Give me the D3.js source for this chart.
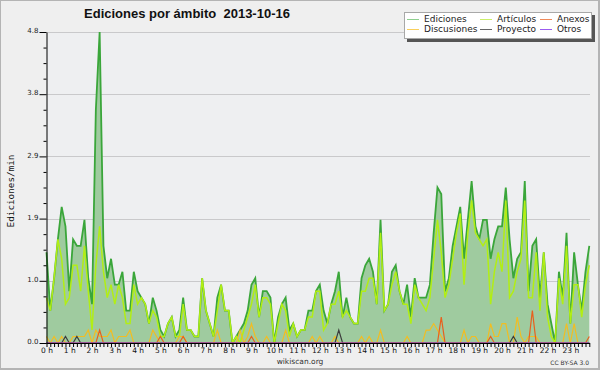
<!DOCTYPE html>
<html>
<head>
<meta charset="utf-8">
<script src="https://cdn.jsdelivr.net/npm/d3@7"></script>
<style>
  body { margin: 0; background: #efefef; }
</style>
</head>
<body>
<div id="chart"></div>
<script>
// DATA - one value every 10 minutes (edits/min), 144 slots per day
var ediciones = [
  1.4,0.5,1.0,1.6,2.1,1.8,0.8,1.6,1.5,1.5,1.9,1.0,
  0.6,3.6,4.8,1.5,1.0,1.3,0.9,0.9,1.1,0.5,0.5,1.1,
  0.8,0.7,0.6,0.3,0.7,0.5,0.2,0.1,0.3,0.4,0.1,0.2,
  0.7,0.2,0.2,0.1,0.1,1.0,0.5,0.3,0.1,0.7,0.9,0.5,
  0.5,0.0,0.1,0.2,0.3,0.5,0.9,1.0,0.4,0.8,0.8,0.7,
  0.0,0.4,0.6,0.7,0.2,0.3,0.1,0.2,0.2,0.5,0.5,0.8,
  0.9,0.5,0.3,0.6,0.8,1.1,0.4,0.7,0.4,0.3,0.3,1.0,
  1.2,1.3,1.1,0.6,1.9,0.5,0.6,1.1,1.2,0.8,0.6,0.9,
  0.4,1.0,0.7,0.7,0.7,0.9,1.7,2.4,2.3,0.8,1.0,1.5,
  1.8,2.1,1.3,1.9,2.5,1.8,1.6,1.9,1.9,1.3,1.6,1.8,
  1.8,2.4,1.6,1.0,1.3,1.4,2.5,0.8,1.5,1.6,0.7,1.4,
  0.6,0.3,0.0,1.1,0.7,1.7,0.3,1.4,0.9,0.5,1.1,1.5
];
var articulos = [
  0.7,0.5,1.0,1.6,1.3,0.6,0.7,1.2,1.2,0.8,1.5,0.8,
  0.2,1.2,1.8,1.1,0.7,0.9,0.6,0.9,0.7,0.3,0.3,0.9,
  0.6,0.7,0.6,0.3,0.5,0.4,0.1,0.1,0.3,0.4,0.1,0.1,
  0.6,0.2,0.2,0.1,0.1,1.0,0.5,0.3,0.1,0.5,0.9,0.5,
  0.5,0.0,0.1,0.0,0.2,0.4,0.6,0.9,0.4,0.7,0.7,0.6,
  0.0,0.3,0.6,0.5,0.1,0.3,0.1,0.2,0.2,0.4,0.4,0.8,
  0.8,0.2,0.3,0.6,0.6,0.8,0.4,0.5,0.4,0.3,0.3,0.8,
  0.8,1.0,1.0,0.6,1.7,0.5,0.6,0.9,1.1,0.8,0.6,0.6,
  0.3,0.9,0.7,0.6,0.5,0.7,1.3,1.9,1.4,0.7,0.9,1.3,
  1.7,2.0,0.9,1.7,2.2,1.7,1.6,1.5,1.6,0.6,1.1,1.4,
  1.1,2.2,0.7,0.8,1.1,1.3,2.2,0.7,0.7,1.4,0.5,1.4,
  0.4,0.1,0.0,1.0,0.6,1.5,0.3,0.9,0.9,0.4,0.9,1.2
];
var discusiones = [
  0.1,0,0.1,0,0.1,0,0,0.1,0.1,0.1,0.1,0.2,
  0,0.2,0.1,0.1,0.1,0.2,0,0.1,0.1,0.1,0.2,0,
  0,0,0,0,0.2,0.1,0,0,0,0,0,0.1,
  0.1,0,0,0,0,0,0,0,0,0.2,0,0,
  0,0,0,0.2,0,0.1,0.3,0.1,0,0,0.1,0,
  0,0,0,0.2,0,0,0,0,0,0,0.1,0,
  0.1,0,0,0,0.1,0,0,0,0,0,0,0.1,
  0,0.1,0,0,0.2,0,0,0,0,0,0,0.1,
  0,0,0,0,0.2,0.2,0.3,0.2,0.1,0,0,0,
  0,0,0.2,0,0.1,0.1,0,0,0,0.3,0.1,0.1,
  0.3,0.3,0,0,0.4,0.1,0,0.1,0.1,0.1,0,0,
  0,0,0,0,0,0.3,0,0.3,0,0,0,0
];
var anexos = [
  0,0,0,0,0,0,0,0,0,0,0,0,
  0,0,0.2,0,0,0,0,0,0,0,0,0,
  0,0,0,0,0,0,0.1,0,0,0,0,0,
  0.1,0,0,0,0,0,0,0,0,0,0,0,
  0,0,0,0,0,0,0.1,0,0,0,0,0,
  0,0,0,0,0,0,0,0,0,0,0,0,
  0,0,0,0,0,0,0,0,0,0,0,0,
  0,0,0,0,0,0,0,0,0,0,0,0,
  0,0,0,0,0,0,0,0,0.4,0,0,0,
  0,0,0,0,0,0,0,0,0,0.1,0,0,
  0,0,0,0,0,0,0,0,0.5,0,0,0,
  0,0,0,0,0,0,0,0,0,0,0,0.1
];
var proyecto = [
  0,0,0,0,0,0.1,0,0,0.1,0,0,0,
  0,0,0,0,0,0,0,0,0,0,0,0,
  0,0,0,0,0,0,0,0,0,0,0,0,
  0,0,0,0,0,0,0,0,0,0,0,0,
  0,0,0,0,0,0,0,0,0,0,0,0,
  0,0,0,0,0,0,0,0,0,0,0,0,
  0,0,0,0,0,0.2,0,0,0,0,0,0,
  0,0,0,0,0,0,0,0,0,0,0,0,
  0,0,0,0,0,0,0,0,0,0,0,0,
  0,0,0,0,0,0,0,0,0,0,0,0,
  0,0,0,0.1,0,0,0,0,0,0,0,0,
  0,0,0,0,0,0,0,0,0,0,0,0
];
var otros = [
  0,0,0,0,0,0,0,0,0,0,0,0,
  0,0,0,0,0,0,0,0,0,0,0,0,
  0,0,0,0,0,0,0,0,0,0,0,0,
  0,0,0,0,0,0,0,0,0,0,0,0,
  0,0,0,0,0,0,0,0,0,0,0,0,
  0,0,0,0,0,0,0,0,0,0,0,0,
  0,0,0,0,0,0,0,0,0,0,0,0,
  0,0,0,0,0,0,0,0,0,0,0,0,
  0,0,0,0,0,0,0,0,0,0,0,0,
  0,0,0,0,0,0,0,0,0,0,0,0,
  0,0,0,0,0,0,0,0,0,0,0,0,
  0,0,0,0,0,0,0,0,0,0,0,0
];
var hourLabels = ["0 h","1 h","2 h","3 h","4 h","5 h","6 h","7 h","8 h","9 h","10 h","11 h",
                  "12 h","13 h","14 h","15 h","16 h","17 h","18 h","19 h","20 h","21 h","22 h","23 h"];
var yTicks = [0, 0.96, 1.92, 2.88, 3.84, 4.8];
var yMinorTicks = [0.24,0.48,0.72,1.2,1.44,1.68,2.16,2.4,2.64,3.12,3.36,3.6,4.08,4.32,4.56];

// SERIES (drawing order)
var series = [
  {name: "Ediciones",   values: ediciones,   color: "#3aa63a", width: 1.8, legend: "#8fcf8f"},
  {name: "Artículos",   values: articulos,   color: "#b2ee14", width: 1.5, legend: "#cbee6a"},
  {name: "Discusiones", values: discusiones, color: "#f2bd22", width: 1.2, legend: "#f9cf5c"},
  {name: "Proyecto",    values: proyecto,    color: "#3c3c3c", width: 1.2, legend: "#666666"},
  {name: "Anexos",      values: anexos,      color: "#e8601e", width: 1.2, legend: "#ef8a5a"},
  {name: "Otros",       values: otros,       color: "#8a3ee8", width: 1.2, legend: "#9b5cf0"}
];
var legendOrder = ["Ediciones","Artículos","Anexos","Discusiones","Proyecto","Otros"];

// SIZES
var W = 600, H = 370;
var plotLeft = 46.5, plotRight = 590, plotTop = 32, plotBottom = 343;
var sans = "DejaVu Sans, sans-serif";

var svg = d3.select("#chart")
  .append("svg")
    .attr("width", W)
    .attr("height", H);

// BACKGROUND + FRAME
svg.append("rect")
  .attr("x", 0).attr("y", 0).attr("width", W).attr("height", H)
  .attr("fill", "#efefef");
svg.append("rect")
  .attr("x", 0.5).attr("y", 0.5).attr("width", W - 2).attr("height", H - 2)
  .attr("fill", "none").attr("stroke", "#b4b4b4").attr("stroke-width", 1);
svg.append("rect")
  .attr("x", W - 2).attr("y", 0).attr("width", 2).attr("height", H)
  .attr("fill", "#b4b4b4");
svg.append("rect")
  .attr("x", 0).attr("y", H - 2).attr("width", W).attr("height", 2)
  .attr("fill", "#b4b4b4");

// SCALES
var x = d3.scaleLinear().domain([0, 143]).range([plotLeft, 589.3]);
var y = d3.scaleLinear().domain([0, 4.8]).range([plotBottom, plotTop]);

// PLOT BACKGROUND
svg.append("rect")
  .attr("x", plotLeft).attr("y", plotTop)
  .attr("width", plotRight - plotLeft).attr("height", plotBottom - plotTop)
  .attr("fill", "#eeeff1");

// GRID
svg.append("g")
  .selectAll("line")
  .data(yTicks.filter(function(d) { return d > 0; }))
  .enter()
  .append("line")
    .attr("x1", plotLeft).attr("x2", plotRight)
    .attr("y1", function(d) { return Math.round(y(d)) + 0.5; })
    .attr("y2", function(d) { return Math.round(y(d)) + 0.5; })
    .attr("stroke", "#c9c9cb")
    .attr("stroke-width", 1);

// AREA (Ediciones)
var area = d3.area()
  .x(function(d, i) { return x(i); })
  .y0(y(0))
  .y1(function(d) { return y(d); });

svg.append("path")
  .datum(ediciones)
  .attr("d", area)
  .attr("fill", "#9fcb9f");

// LINES
var line = d3.line()
  .x(function(d, i) { return x(i); })
  .y(function(d) { return y(d); });

svg.append("g")
  .selectAll("path")
  .data(series)
  .enter()
  .append("path")
    .attr("d", function(d) { return line(d.values); })
    .attr("fill", "none")
    .attr("stroke", function(d) { return d.color; })
    .attr("stroke-width", function(d) { return d.width; })
    .attr("stroke-linejoin", "miter");

// X AXIS
var xAxis = svg.append("g")
  .attr("transform", "translate(0," + plotBottom + ")")
  .call(d3.axisBottom(x)
    .tickValues(d3.range(0, ediciones.length))
    .tickSizeInner(4)
    .tickSizeOuter(0)
    .tickFormat(""));
xAxis.select(".domain").attr("stroke", "#000").attr("d", "M" + plotLeft + ",0.5H" + plotRight);
xAxis.selectAll(".tick line").attr("stroke", "#000");

svg.append("g")
  .selectAll("text")
  .data(hourLabels)
  .enter()
  .append("text")
    .attr("x", function(d, i) { return x(i * 6) + 0.5; })
    .attr("y", 353)
    .attr("text-anchor", "middle")
    .style("font-family", sans)
    .style("font-size", "7.5px")
    .attr("fill", "#111")
    .text(function(d) { return d; });

// Y AXIS
var yAxis = svg.append("g")
  .attr("transform", "translate(" + plotLeft + ",0)")
  .call(d3.axisLeft(y)
    .tickValues(yTicks)
    .tickSizeInner(7)
    .tickSizeOuter(0)
    .tickPadding(1)
    .tickFormat(d3.format(".1f")));
yAxis.select(".domain").attr("stroke", "#000");
yAxis.selectAll(".tick line").attr("stroke", "#000");
yAxis.selectAll(".tick text")
  .style("font-family", sans)
  .style("font-size", "7px")
  .attr("fill", "#222")
  .attr("dy", "0.1em");

var yMinor = svg.append("g")
  .attr("transform", "translate(" + plotLeft + ",0)")
  .call(d3.axisLeft(y)
    .tickValues(yMinorTicks)
    .tickSizeInner(3)
    .tickSizeOuter(0)
    .tickFormat(""));
yMinor.select(".domain").remove();
yMinor.selectAll(".tick line").attr("stroke", "#000");

// Y LABEL
svg.append("text")
  .attr("transform", "translate(14,191) rotate(-90)")
  .attr("text-anchor", "middle")
  .style("font-family", "DejaVu Sans Mono, monospace")
  .style("font-size", "9.3px")
  .attr("fill", "#111")
  .text("Ediciones/min");

// TITLE
svg.append("text")
  .attr("x", 187)
  .attr("y", 18)
  .attr("text-anchor", "middle")
  .style("font-family", "Liberation Sans, Arial, sans-serif")
  .style("font-weight", "bold")
  .style("font-size", "13px")
  .style("white-space", "pre")
  .attr("fill", "#111")
  .text("Ediciones por ámbito  2013-10-16");

// LEGEND
var legend = svg.append("g").attr("class", "legend");
legend.append("rect")
  .attr("x", 407).attr("y", 15).attr("width", 188).attr("height", 27)
  .attr("fill", "#555");
legend.append("rect")
  .attr("x", 404.5).attr("y", 12.5).attr("width", 187).attr("height", 26)
  .attr("fill", "#fff").attr("stroke", "#a8a8a8");

var colX = [407, 480, 540];
var rowY = [19, 29];
var legendItems = legendOrder.map(function(n) {
  return series.filter(function(s) { return s.name === n; })[0];
});

legend.selectAll("line.key")
  .data(legendItems)
  .enter()
  .append("line")
    .attr("class", "key")
    .attr("x1", function(d, i) { return colX[i % 3]; })
    .attr("x2", function(d, i) { return colX[i % 3] + 12; })
    .attr("y1", function(d, i) { return rowY[~~(i / 3)] + 0.5; })
    .attr("y2", function(d, i) { return rowY[~~(i / 3)] + 0.5; })
    .attr("stroke", function(d) { return d.legend; })
    .attr("stroke-width", 1);

legend.selectAll("text")
  .data(legendItems)
  .enter()
  .append("text")
    .attr("x", function(d, i) { return colX[i % 3] + 17; })
    .attr("y", function(d, i) { return rowY[~~(i / 3)] + 3; })
    .style("font-family", sans)
    .style("font-size", "9px")
    .attr("fill", "#222")
    .text(function(d) { return d.name; });

// FOOTER
svg.append("text")
  .attr("x", 300)
  .attr("y", 364)
  .attr("text-anchor", "middle")
  .style("font-family", sans)
  .style("font-size", "7.5px")
  .attr("fill", "#333")
  .text("wikiscan.org");

svg.append("text")
  .attr("x", 589)
  .attr("y", 364.5)
  .attr("text-anchor", "end")
  .style("font-family", sans)
  .style("font-size", "6px")
  .attr("fill", "#333")
  .text("CC BY-SA 3.0");
</script>
</body>
</html>
